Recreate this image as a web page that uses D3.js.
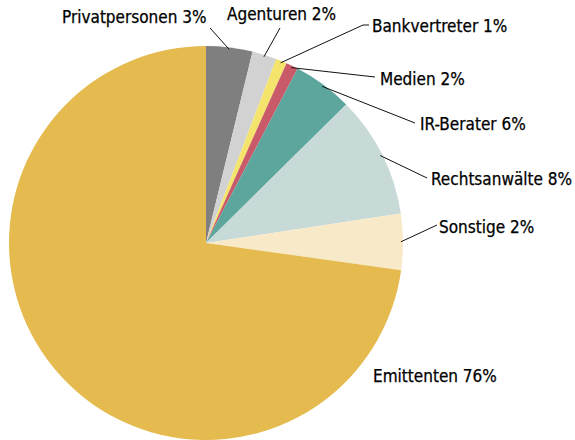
<!doctype html>
<html lang="de">
<head>
<meta charset="utf-8">
<style>
  body { margin: 0; background: #fff; }
  .lbl { font-family: "DejaVu Sans Condensed", "DejaVu Sans", sans-serif; font-size: 17px; fill: #000; stroke: #000; stroke-width: 0.25; }
  .lead { stroke: #111; stroke-width: 1; fill: none; }
</style>
<script src="https://d3js.org/d3.v7.min.js"></script>
</head>
<body>
<svg width="575" height="440"></svg>
<script>
// clockwise from 12 o'clock
const categories = ["Privatpersonen", "Agenturen", "Bankvertreter", "Medien", "IR-Berater", "Rechtsanwälte", "Sonstige", "Emittenten"];
// slice shares as drawn in the picture (printed labels are rounded differently)
const shares = [3.8, 2.0, 0.9, 1.0, 4.9, 10.0, 4.6, 72.8];
const labelPct = ["3%", "2%", "1%", "2%", "6%", "8%", "2%", "76%"];
const colors = ["#7f7f7f", "#d2d2d2", "#f4e46c", "#c95a6a", "#5ca69d", "#c7dad7", "#f8e9c8", "#e5bb4f"];

// label layout: text anchor point and where the leader line ends
const labelPos = [
  { x: 62,  y: 23,  lx: 210, ly: 28 },
  { x: 227, y: 20,  lx: 280, ly: 28 },
  { x: 372, y: 32,  lx: 363, ly: 25, tail: 369 },
  { x: 380, y: 85,  lx: 375, ly: 77 },
  { x: 420, y: 130, lx: 415, ly: 123 },
  { x: 431, y: 185, lx: 427, ly: 178 },
  { x: 439, y: 233, lx: 437, ly: 225 },
  { x: 373, y: 382 }
];

const cx = 206, cy = 243, r = 197;

const svg = d3.select("svg");
const g = svg.append("g").attr("transform", `translate(${cx},${cy})`);

const pie = d3.pie().sort(null).value(d => d);
const arcs = pie(shares);
const arc = d3.arc().innerRadius(0).outerRadius(r);

g.selectAll("path.slice")
  .data(arcs)
  .enter()
  .append("path")
  .attr("class", "slice")
  .attr("d", arc)
  .attr("fill", (d, i) => colors[i]);

// leader lines from the arc edge
arcs.forEach((d, i) => {
  const p = labelPos[i];
  if (p.lx === undefined) return;
  const a = (d.startAngle + d.endAngle) / 2;
  const sx = cx + (r - 2) * Math.sin(a);
  const sy = cy - (r - 2) * Math.cos(a);
  const pts = [[sx, sy], [p.lx, p.ly]];
  if (p.tail) pts.push([p.tail, p.ly]);
  svg.append("path")
    .attr("class", "lead")
    .attr("d", d3.line()(pts));
});

svg.selectAll("text.lbl")
  .data(categories)
  .enter()
  .append("text")
  .attr("class", "lbl")
  .attr("x", (d, i) => labelPos[i].x)
  .attr("y", (d, i) => labelPos[i].y)
  .text((d, i) => d + " " + labelPct[i]);
</script>
</body>
</html>
